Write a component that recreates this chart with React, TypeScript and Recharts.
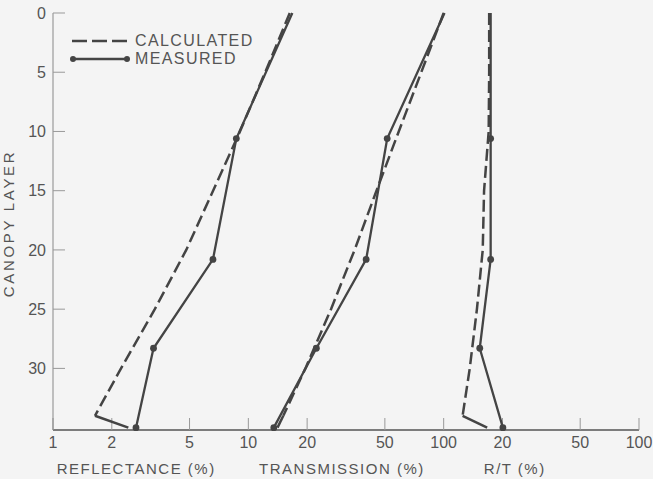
import React from 'react';
import { ScatterChart, Scatter, XAxis, YAxis, Legend } from 'recharts';

// model output, evaluated at these canopy layers (34 = last leaf layer, 35 = soil)
const calcLayers = [0, 5, 10, 15, 20, 25, 30, 34, 35];
const reflCalc = [16.3, 12.2, 9.06, 6.6, 4.81, 3.32, 2.23, 1.64, 2.43];
const transCalc = [100, 76.8, 58.9, 45.3, 35.0, 26.5, 19.6, 15.1, 14.1];
const ratioCalc = [17.1, 17.1, 17.0, 16.1, 15.85, 14.8, 13.6, 12.5, 16.7];

// field measurements
const measLayers = [0, 10.6, 20.8, 28.3, 35];
const reflMeas = [16.8, 8.68, 6.59, 3.27, 2.66];
const transMeas = [101, 51.4, 40.1, 22.3, 13.5];
const ratioMeas = [17.4, 17.4, 17.4, 15.3, 20.1];

// the R/T panel shares the log axis, shifted one decade right of transmission
const RT_SHIFT = 10;

const xTicks = [1, 2, 5, 10, 20, 50, 100, 200, 500, 1000];
const xTickLabels = ['1', '2', '5', '10', '20', '50', '100', '20', '50', '100'];
const yTicks = [0, 5, 10, 15, 20, 25, 30];
const xTitles = ['REFLECTANCE (%)', 'TRANSMISSION (%)', 'R/T (%)'];
const xTitlePos = [0.142, 0.493, 0.788];
const yTitle = 'CANOPY LAYER';
const legendItems = [
  { label: 'CALCULATED', dashed: true },
  { label: 'MEASURED', dashed: false },
];

const INK = '#444';
const TEXT = '#555';
const FONT = '"Liberation Sans", Arial, Helvetica, sans-serif';
const DASH = '12 5';

type Pt = { x: number; layer: number; dot?: boolean };

const toPoints = (layers: number[], values: number[], scale = 1, dots = false): Pt[] =>
  layers.map((layer, i) => ({ x: values[i] * scale, layer, dot: dots && i > 0 }));

const calcCurves = [
  toPoints(calcLayers, reflCalc),
  toPoints(calcLayers, transCalc),
  toPoints(calcLayers, ratioCalc, RT_SHIFT),
];
const measCurves = [
  toPoints(measLayers, reflMeas, 1, true),
  toPoints(measLayers, transMeas, 1, true),
  toPoints(measLayers, ratioMeas, RT_SHIFT, true),
];

const noShape = () => <g />;
const dotShape = (props: any) =>
  props.payload && props.payload.dot ? (
    <circle cx={props.cx} cy={props.cy} r={3.4} fill={INK} />
  ) : (
    <g />
  );

const renderXTitles = (props: any) => {
  const vb = props.viewBox || { x: 53, y: 430, width: 586, height: 30 };
  return (
    <g>
      {xTitles.map((t, i) => (
        <text
          key={t}
          x={vb.x + xTitlePos[i] * vb.width}
          y={vb.y + 38}
          textAnchor="middle"
          dominantBaseline="central"
          fill={TEXT}
          fontSize={15}
          letterSpacing={1.5}
          fontFamily={FONT}
        >
          {t}
        </text>
      ))}
    </g>
  );
};

const renderYTitle = (props: any) => {
  const vb = props.viewBox || { x: 13, y: 13, width: 40, height: 417 };
  const cx = vb.x - 4.5;
  const cy = vb.y + vb.height / 2 + 2;
  return (
    <text
      x={cx}
      y={cy}
      transform={`rotate(-90, ${cx}, ${cy})`}
      textAnchor="middle"
      dominantBaseline="central"
      fill={TEXT}
      fontSize={15}
      letterSpacing={2.7}
      fontFamily={FONT}
    >
      {yTitle}
    </text>
  );
};

const renderLegend = () => (
  <div style={{ fontFamily: FONT, color: TEXT, fontSize: 16, letterSpacing: 1.4 }}>
    {legendItems.map((item) => (
      <div key={item.label} style={{ display: 'flex', alignItems: 'center', height: 18 }}>
        <svg width={62} height={10} style={{ marginRight: 3 }}>
          <line
            x1={2}
            x2={58}
            y1={5}
            y2={5}
            stroke={INK}
            strokeWidth={2.3}
            strokeDasharray={item.dashed ? '15 5' : undefined}
          />
          {!item.dashed && <circle cx={3} cy={5} r={3} fill={INK} />}
          {!item.dashed && <circle cx={57} cy={5} r={3} fill={INK} />}
        </svg>
        <span>{item.label}</span>
      </div>
    ))}
  </div>
);

export default function App() {
  return (
    <div style={{ position: 'absolute', left: 0, top: 0, width: 653, height: 479, background: '#f4f4f4' }}>
      <ScatterChart width={653} height={479} margin={{ top: 13, right: 14, bottom: 19, left: 13 }}>
        <XAxis
          type="number"
          dataKey="x"
          scale="log"
          domain={[1, 1000]}
          allowDataOverflow
          ticks={xTicks}
          interval={0}
          tickFormatter={(v: number) => xTickLabels[xTicks.indexOf(v)]}
          height={30}
          tickSize={-12}
          tickMargin={19}
          axisLine={{ stroke: '#555', strokeWidth: 1.7 }}
          tickLine={{ stroke: '#999' }}
          tick={{ fill: TEXT, fontSize: 16, fontFamily: FONT }}
          label={renderXTitles}
        />
        <XAxis
          xAxisId="top"
          orientation="top"
          type="number"
          domain={[0, 1]}
          height={0}
          tick={false}
          tickLine={false}
          axisLine={{ stroke: '#9a9a9a' }}
        />
        <YAxis
          type="number"
          dataKey="layer"
          domain={[0, 35.2]}
          reversed
          ticks={yTicks}
          interval={0}
          width={40}
          tickSize={-12}
          tickMargin={19}
          axisLine={{ stroke: '#888' }}
          tickLine={{ stroke: '#999' }}
          tick={{ fill: TEXT, fontSize: 16, fontFamily: FONT }}
          label={renderYTitle}
        />
        <YAxis
          yAxisId="right"
          orientation="right"
          type="number"
          domain={[0, 1]}
          width={0}
          tick={false}
          tickLine={false}
          axisLine={{ stroke: '#9a9a9a' }}
        />
        <Legend
          layout="vertical"
          align="center"
          verticalAlign="middle"
          content={renderLegend}
          wrapperStyle={{ left: 70, top: 32, width: 200 }}
        />
        {calcCurves.map((pts, i) => (
          <Scatter
            key={`calc-${i}`}
            data={pts.slice(0, pts.length - 1)}
            fill={INK}
            line={{ stroke: INK, strokeWidth: 2.5, strokeDasharray: DASH }}
            lineType="joint"
            shape={noShape}
            isAnimationActive={false}
          />
        ))}
        {calcCurves.map((pts, i) => (
          <Scatter
            key={`soil-${i}`}
            data={pts.slice(pts.length - 2)}
            fill={INK}
            line={{ stroke: INK, strokeWidth: 2.5 }}
            lineType="joint"
            shape={noShape}
            isAnimationActive={false}
          />
        ))}
        {measCurves.map((pts, i) => (
          <Scatter
            key={`meas-${i}`}
            data={pts}
            fill={INK}
            line={{ stroke: INK, strokeWidth: 2.3 }}
            lineType="joint"
            shape={dotShape}
            isAnimationActive={false}
          />
        ))}
      </ScatterChart>
    </div>
  );
}
